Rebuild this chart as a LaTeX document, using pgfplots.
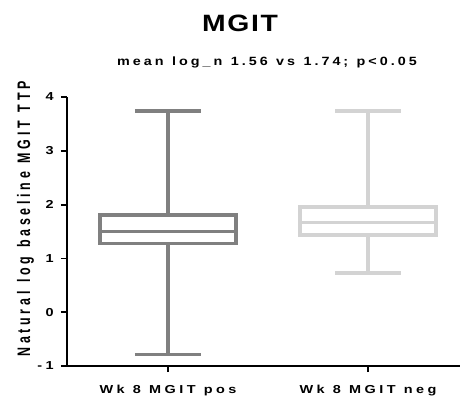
\documentclass[border=0pt]{standalone}
\usepackage{fontspec}
\setmainfont[LetterSpace=24, WordSpace=1.1]{Liberation Sans}
\newfontfamily\titlefont[LetterSpace=6]{Liberation Sans}
\newfontfamily\subfont[LetterSpace=21, WordSpace=1.2]{Liberation Sans}
\newfontfamily\ylabfont[LetterSpace=30, WordSpace=1.2]{Liberation Sans}
\usepackage{pgfplots}
\pgfplotsset{compat=1.18}
\usepgfplotslibrary{statistics}
\definecolor{darkbox}{RGB}{128,128,128}
\definecolor{lightbox}{RGB}{211,211,211}
\begin{document}
\begin{tikzpicture}
\path[use as bounding box] (-67bp,-32bp) rectangle (398bp,366bp);
\begin{axis}[
  at={(0,0)}, anchor=south west,
  scale only axis, width=393bp, height=269bp,
  xmin=0.495, xmax=2.46, ymin=-1, ymax=4,
  axis lines*=left,
  axis line style={line width=1.8bp, black},
  xtick={1,2}, xticklabels={Wk 8 MGIT pos, Wk 8 MGIT neg},
  ytick={-1,0,1,2,3,4},
  yticklabel style={xshift=-3bp, xscale=1.25},
  xticklabel style={anchor=base, yshift=-21bp, xscale=1.25},
  tick style={line width=1.8bp, black},
  tick align=outside, major tick length=6bp,
  tick label style={font=\bfseries\fontsize{11.6}{14}\selectfont},
  /pgf/number format/assume math mode=true,
  boxplot/draw direction=y,
  boxplot/box extend=0.68,
  boxplot/whisker extend=0.33,
  clip=false,
]
\addplot[draw=darkbox, line width=3.6bp, fill=white,
  boxplot prepared={median=1.50, upper quartile=1.81, lower quartile=1.28,
    upper whisker=3.74, lower whisker=-0.785, draw position=1}] coordinates {};
\addplot[draw=lightbox, line width=3.6bp, fill=white,
  boxplot prepared={median=1.67, upper quartile=1.96, lower quartile=1.43,
    upper whisker=3.74, lower whisker=0.73, draw position=2}] coordinates {};
\end{axis}
\node[rotate=90, yscale=1.45, anchor=base, font=\ylabfont\bfseries\fontsize{12.5}{15}\selectfont] at (-37bp,147bp) {Natural log baseline MGIT TTP};
\node[xscale=1.2, anchor=base, font=\titlefont\bfseries\fontsize{23.7}{26}\selectfont] at (173bp,334bp) {MGIT};
\node[xscale=1.2, anchor=base, font=\subfont\bfseries\fontsize{12}{13}\selectfont] at (200bp,300.3bp) {mean log\_n 1.56 vs 1.74; p<0.05};
\end{tikzpicture}
\end{document}
